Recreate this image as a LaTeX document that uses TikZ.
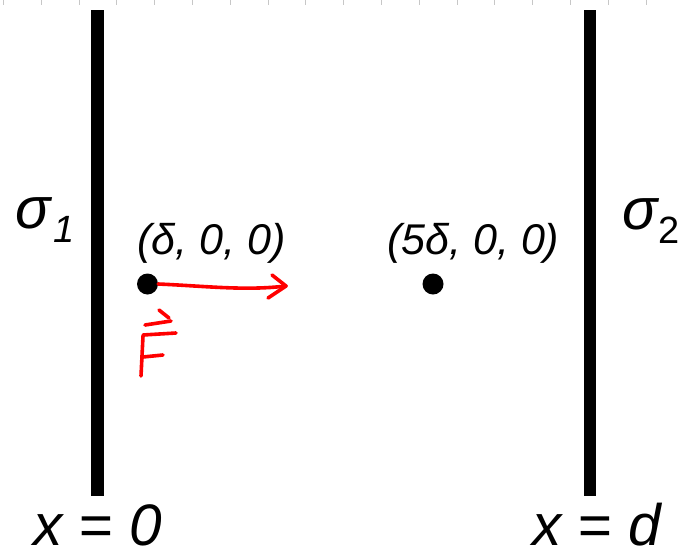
\documentclass[tikz,border=0pt]{standalone}
\usepackage{fontspec}
\setmainfont{Liberation Sans}
\begin{document}
\begin{tikzpicture}[x=1pt,y=-1pt,
  plate/.style={line width=12.5pt, line cap=butt, black},
  dot/.style={circle, fill=black, inner sep=0pt, minimum size=21pt},
  bigtext/.style={inner sep=0pt, anchor=base west, font=\fontsize{58.5}{60}\selectfont\itshape},
  coordtext/.style={inner sep=0pt, anchor=base west, font=\fontsize{43}{46}\selectfont\itshape},
  redpen/.style={draw=red, line width=3.6pt, line cap=round, line join=round},
  tick/.style={draw=black!22, line width=1pt}]
\useasboundingbox (0,0) rectangle (685,552);
% ruler ticks
\foreach \i in {0,...,17} \draw[tick] (3.5+37.8*\i,0) -- ++(0,4.5);
% plates
\coordinate (l1) at (97.5,10);
\coordinate (l2) at (97.5,496);
\coordinate (r1) at (590,10);
\coordinate (r2) at (590,496);
\draw[plate] (l1) -- (l2);
\draw[plate] (r1) -- (r2);
% sigma labels
\node[bigtext] (s1) at (15,228) {σ\kern3pt\raisebox{-14pt}{\fontsize{38}{40}\selectfont 1}};
\node[bigtext] (s2) at (622,229) {σ\kern1pt\raisebox{-14pt}{\fontsize{38}{40}\selectfont\upshape 2}};
% x labels
\node[bigtext] (x0) at (33,545) {x = 0};
\node[bigtext] (xd) at (532,545) {x = d};
% points
\node[dot] (p1) at (147.5,284) {};
\node[dot] (p2) at (433,284) {};
\node[coordtext] (c1) at (137,254) {(δ, 0, 0)};
\node[coordtext] (c2) at (387,254) {(5δ, 0, 0)};
% force arrow
\coordinate (tip) at (286,286);
\draw[redpen] (p1.east) .. controls (205,286) and (245,291) .. (tip);
\draw[redpen] (272,275) -- (tip) -- (268,298);
% F with arrow
\draw[redpen] (159,310) -- (169,318);
\draw[redpen] (145,325) -- (171,321);
\draw[redpen] (143,336) -- (141,376);
\draw[redpen] (143,335) -- (176,333);
\draw[redpen] (143,357) -- (163,355);
\end{tikzpicture}
\end{document}
